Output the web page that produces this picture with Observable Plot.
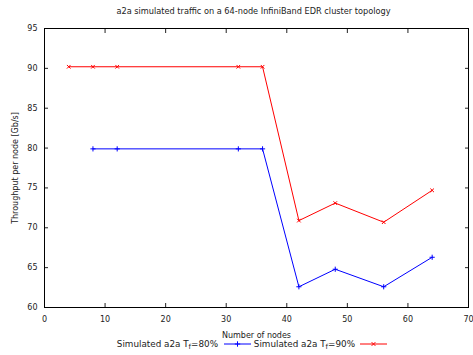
<!DOCTYPE html>
<html>
<head>
<meta charset="utf-8">
<script src="https://cdn.jsdelivr.net/npm/d3@7"></script>
<script src="https://cdn.jsdelivr.net/npm/@observablehq/plot@0.6"></script>
<style>
  html, body { margin: 0; padding: 0; background: #fff; }
  body { width: 473px; height: 355px; overflow: hidden; font-family: "DejaVu Sans", sans-serif; color: #222; }
  #title { height: 20px; box-sizing: border-box; padding-top: 6px; font-size: 8.2px; line-height: 10px; text-align: center; padding-left: 34px; }
  #legend { position: relative; height: 15px; font-size: 8.8px; }
  #legend .lbl { position: absolute; top: 0px; white-space: nowrap; line-height: 9px; }
  #legend svg { position: absolute; top: -1px; }
  sub { font-size: 7px; vertical-align: -2px; line-height: 0; }
</style>
</head>
<body>
<div id="title">a2a simulated traffic on a 64-node InfiniBand EDR cluster topology</div>
<div id="chart"></div>
<div id="legend"></div>
<script>
const nodes80 = [8, 12, 32, 36, 42, 48, 56, 64];
const tput80  = [79.9, 79.9, 79.9, 79.9, 62.6, 64.8, 62.6, 66.3];
const nodes90 = [4, 8, 12, 32, 36, 42, 48, 56, 64];
const tput90  = [90.2, 90.2, 90.2, 90.2, 90.2, 70.9, 73.1, 70.7, 74.7];
const xTicks = [0, 10, 20, 30, 40, 50, 60, 70];
const yTicks = [60, 65, 70, 75, 80, 85, 90, 95];
const seriesNames = ["Simulated a2a T_f=80%", "Simulated a2a T_f=90%"];
const seriesColors = ["#0000ff", "#ff0000"];

const s80 = nodes80.map((n, i) => ({n, t: tput80[i]}));
const s90 = nodes90.map((n, i) => ({n, t: tput90[i]}));

const chart = Plot.plot({
  width: 473, height: 320,
  marginTop: 8, marginLeft: 44, marginRight: 5, marginBottom: 33,
  style: {fontFamily: "DejaVu Sans", fontSize: "8px", color: "#222", overflow: "visible", background: "#fff"},
  x: {domain: [0, 70]},
  y: {domain: [60, 95]},
  marks: [
    Plot.axisY({ticks: yTicks, anchor: "left", tickSize: 0, tickPadding: 7, label: "Throughput per node [Gb/s]", labelAnchor: "center", labelArrow: "none", labelOffset: 32}),
    Plot.axisY({ticks: yTicks, anchor: "left", tickSize: 4, dx: 4, tickFormat: () => "", label: null}),
    Plot.axisY({ticks: yTicks, anchor: "right", tickSize: 4, dx: -4, tickFormat: () => "", label: null}),
    Plot.axisX({ticks: xTicks, anchor: "bottom", tickSize: 0, tickPadding: 9, label: "Number of nodes", labelAnchor: "center", labelArrow: "none", labelOffset: 30}),
    Plot.axisX({ticks: xTicks, anchor: "bottom", tickSize: 4, dy: -4, tickFormat: () => "", label: null}),
    Plot.axisX({ticks: xTicks, anchor: "top", tickSize: 4, dy: 4, tickFormat: () => "", label: null}),
    Plot.line(s80, {x: "n", y: "t", stroke: seriesColors[0], strokeWidth: 1}),
    Plot.dot(s80, {x: "n", y: "t", stroke: seriesColors[0], symbol: "plus", r: 1.8, strokeWidth: 1}),
    Plot.line(s90, {x: "n", y: "t", stroke: seriesColors[1], strokeWidth: 1}),
    Plot.dot(s90, {x: "n", y: "t", stroke: seriesColors[1], symbol: "times", r: 1.8, strokeWidth: 1}),
    Plot.frame({stroke: "#000", strokeWidth: 1})
  ]
});
document.getElementById("chart").appendChild(chart);

// legend (gnuplot-style key below the plot)
const legend = document.getElementById("legend");
const keyPos = [{textRight: 218, sample: 224}, {textRight: 355, sample: 360}];
const symbols = ["plus", "times"];
seriesNames.forEach((name, i) => {
  const [pre, post] = name.split("T_f");
  const span = document.createElement("span");
  span.className = "lbl";
  span.style.right = (473 - keyPos[i].textRight) + "px";
  span.innerHTML = pre + "T<sub>f</sub>" + post;
  legend.appendChild(span);
  const svg = d3.create("svg").attr("width", 28).attr("height", 10)
    .style("left", keyPos[i].sample + "px");
  svg.append("line").attr("x1", 0).attr("x2", 27).attr("y1", 5).attr("y2", 5)
    .attr("stroke", seriesColors[i]).attr("stroke-width", 1);
  const sym = symbols[i] === "plus" ? d3.symbolPlus : d3.symbolTimes;
  svg.append("path").attr("d", d3.symbol(sym, 11)()).attr("transform", "translate(13.5,5)")
    .attr("fill", "none").attr("stroke", seriesColors[i]).attr("stroke-width", 1);
  legend.appendChild(svg.node());
});
</script>
</body>
</html>
